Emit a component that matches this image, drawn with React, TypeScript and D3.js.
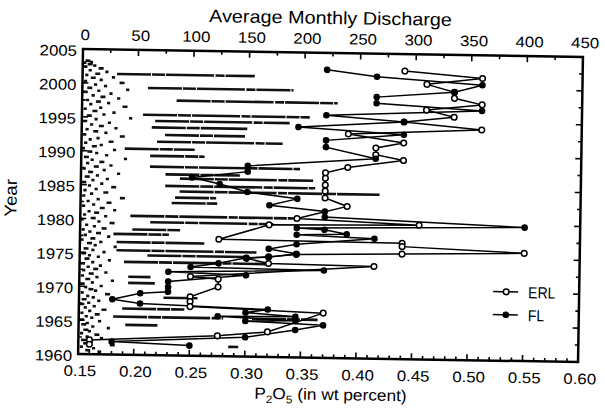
import React from "react";
import * as d3 from "d3";

// ---- axis ticks ----
const P2O5_TICKS = [0.15, 0.2, 0.25, 0.3, 0.35, 0.4, 0.45, 0.5, 0.55, 0.6];
const DISCHARGE_TICKS = [0, 50, 100, 150, 200, 250, 300, 350, 400, 450];
const YEAR_TICKS = [1960, 1965, 1970, 1975, 1980, 1985, 1990, 1995, 2000, 2005];

// ---- series: [year, P2O5 wt%] ----
const ERL: [number, number][] = [
  [2002.5, 0.44], [2001.6, 0.51], [2000.6, 0.46], [1999.5, 0.485], [1998.6, 0.485],
  [1997.7, 0.51], [1996.8, 0.46], [1995.8, 0.485], [1995.0, 0.44], [1994.0, 0.51],
  [1993.1, 0.39], [1991.9, 0.44], [1991.1, 0.415], [1990.1, 0.415], [1989.3, 0.44],
  [1988.15, 0.39], [1987.3, 0.37], [1986.5, 0.37], [1985.5, 0.37], [1984.6, 0.37],
  [1983.6, 0.37], [1982.4, 0.39], [1980.5, 0.345], [1979.8, 0.455], [1979.5, 0.32],
  [1977.25, 0.275], [1977.1, 0.44], [1976.6, 0.44], [1975.9, 0.55], [1975.5, 0.44],
  [1975.2, 0.345], [1974.8, 0.32], [1974.5, 0.3], [1973.8, 0.32], [1973.6, 0.415],
  [1971.7, 0.25], [1971.35, 0.275], [1970.2, 0.275], [1968.7, 0.25], [1968.0, 0.25],
  [1967.25, 0.25], [1966.6, 0.37], [1963.7, 0.32], [1963.0, 0.275], [1962.1, 0.16],
  [1961.45, 0.16],
];

const FL: [number, number][] = [
  [2002.5, 0.37], [2001.6, 0.415], [2000.6, 0.51], [1999.5, 0.485], [1998.6, 0.415],
  [1997.7, 0.415], [1996.8, 0.51], [1995.8, 0.37], [1995.0, 0.44], [1994.0, 0.345],
  [1993.1, 0.44], [1992.1, 0.37], [1991.1, 0.37], [1989.5, 0.415],
  [1988.15, 0.3], [1987.3, 0.3], [1986.3, 0.25], [1985.4, 0.275], [1984.3, 0.3],
  [1983.4, 0.345], [1982.4, 0.32], [1981.6, 0.37], [1980.8, 0.37], [1979.7, 0.55],
  [1979.1, 0.345], [1978.9, 0.37], [1978.3, 0.39], [1978.1, 0.345], [1977.7, 0.415],
  [1976.7, 0.345], [1975.95, 0.32], [1975.3, 0.345], [1974.7, 0.32], [1974.6, 0.3],
  [1973.7, 0.275], [1973.1, 0.25], [1972.9, 0.37], [1972.35, 0.23], [1972.0, 0.3],
  [1970.9, 0.23], [1970.1, 0.23], [1969.4, 0.23], [1969.1, 0.205], [1968.15, 0.18],
  [1967.6, 0.205], [1967.0, 0.32], [1966.5, 0.3], [1966.0, 0.345], [1965.9, 0.275],
  [1965.4, 0.345], [1965.25, 0.3], [1964.8, 0.37], [1964.05, 0.345], [1962.85, 0.3],
  [1961.9, 0.18], [1961.5, 0.25],
];

// ---- monthly discharge streaks: [year, from, to] (top axis units) ----
const DISCHARGE_ROWS: [number, number, number][] = [
  [2001.4, 31, 155], [1999.4, 59, 190], [1997.6, 85, 230], [1995.45, 55, 205],
  [1994.55, 66, 187], [1993.6, 63, 149], [1992.5, 75, 147], [1991.5, 68, 181],
  [1990.4, 39, 102], [1989.4, 62, 111], [1987.8, 62, 197], [1986.7, 76, 143],
  [1986.1, 89, 209], [1985.0, 76, 211], [1984.2, 89, 269], [1983.3, 85, 122],
  [1982.5, 82, 123], [1980.5, 45, 198], [1979.6, 63, 174], [1978.5, 47, 90],
  [1977.8, 30, 80], [1976.6, 33, 112], [1975.4, 33, 159], [1974.7, 61, 149],
  [1973.7, 40, 171], [1971.5, 44, 64], [1970.6, 44, 68], [1968.5, 76, 107],
  [1966.8, 39, 95], [1965.6, 31, 130], [1965.6, 156, 215], [1964.4, 42, 71],
  [1961.4, 135, 144],
];

// ---- low-flow months: [year, discharge] ----
const LOW_FLOW: [number, number][] = [
  [2003.3, 4], [2003.1, 8], [2003.0, 2], [2002.8, 6], [2002.6, 11], [2002.4, 3], [2002.2, 16],
  [2001.9, 7], [2001.7, 22], [2001.4, 13], [2001.2, 4], [2000.9, 28], [2000.8, 9], [2000.5, 17],
  [2000.3, 3], [2000.1, 35], [1999.8, 12], [1999.6, 21], [1999.3, 6], [1999.1, 41], [1998.9, 15],
  [1998.7, 2], [1998.5, 26], [1998.2, 10], [1998.0, 18], [1997.8, 33], [1997.5, 5], [1997.3, 14],
  [1997.1, 24], [1996.9, 8], [1996.6, 38], [1996.4, 17], [1996.2, 3], [1995.9, 11], [1995.7, 29],
  [1995.4, 20], [1995.2, 6], [1994.9, 44], [1994.7, 13], [1994.4, 2], [1994.2, 25], [1993.9, 9],
  [1993.7, 17], [1993.4, 31], [1993.2, 5], [1992.9, 12], [1992.7, 22], [1992.4, 3], [1992.2, 36],
  [1991.9, 15], [1991.7, 8], [1991.4, 26], [1991.2, 4], [1990.9, 18], [1990.7, 11], [1990.4, 2],
  [1990.2, 30], [1989.9, 7], [1989.7, 14], [1989.4, 23], [1989.1, 4], [1988.9, 40], [1988.7, 10],
  [1988.4, 18], [1988.2, 6], [1987.9, 27], [1987.7, 13], [1987.4, 3], [1987.2, 21], [1986.9, 8],
  [1986.7, 34], [1986.4, 15], [1986.2, 5], [1985.9, 24], [1985.7, 11], [1985.4, 2], [1985.2, 19],
  [1984.9, 8], [1984.7, 29], [1984.4, 14], [1984.2, 4], [1983.9, 22], [1983.7, 10], [1983.4, 3],
  [1983.1, 37], [1982.9, 16], [1982.6, 7], [1982.4, 25], [1982.1, 12], [1981.9, 3], [1981.6, 19],
  [1981.3, 31], [1981.1, 8], [1980.9, 14], [1980.6, 4], [1980.4, 23], [1980.1, 11], [1979.9, 2],
  [1979.6, 17], [1979.4, 28], [1979.1, 6], [1978.9, 13], [1978.6, 21], [1978.4, 3], [1978.1, 9],
  [1977.9, 16], [1977.6, 5], [1977.4, 26], [1977.1, 11], [1976.9, 2], [1976.6, 19], [1976.4, 8],
  [1976.1, 14], [1975.9, 32], [1975.6, 5], [1975.4, 12], [1975.1, 22], [1974.9, 3], [1974.6, 9],
  [1974.4, 17], [1974.1, 6], [1973.9, 27], [1973.6, 12], [1973.4, 2], [1973.1, 19], [1972.9, 8],
  [1972.6, 14], [1972.4, 4], [1972.1, 24], [1971.9, 10], [1971.6, 3], [1971.4, 16], [1971.1, 7],
  [1970.9, 30], [1970.6, 12], [1970.4, 2], [1970.1, 20], [1969.9, 6], [1969.6, 10], [1969.4, 15],
  [1969.1, 3], [1968.9, 25], [1968.6, 8], [1968.4, 13], [1968.1, 4], [1967.9, 18], [1967.6, 9],
  [1967.4, 2], [1967.1, 14], [1966.9, 6], [1966.6, 22], [1966.4, 10], [1966.1, 3], [1965.9, 16],
  [1965.6, 7], [1965.4, 12], [1965.1, 2], [1964.9, 19], [1964.6, 8], [1964.4, 4], [1964.1, 13],
  [1963.9, 27], [1963.6, 6], [1963.4, 10], [1963.1, 3], [1962.9, 16], [1962.6, 8], [1962.4, 21],
  [1962.1, 4], [1961.9, 12], [1961.6, 6], [1961.4, 30], [1961.1, 3], [1960.9, 14], [1960.6, 8],
  [1960.4, 19],
];

const FONT = "'Liberation Sans', Arial, sans-serif";

export default function App() {
  const W = 605, H = 413;
  const left = 83, top = 49, pw = 500, ph = 305;
  const right = left + pw, bottom = top + ph;

  const x = d3.scaleLinear().domain([0.15, 0.6]).range([left, right]);
  const xq = d3.scaleLinear().domain([0, 450]).range([left, right]);
  const y = d3.scaleLinear().domain([1960, 2005]).range([bottom, top]);

  const line = d3.line<[number, number]>().x((d) => x(d[1])).y((d) => y(d[0]));

  const minorX = d3.range(0.15, 0.6001, 0.01);
  const minorQ = d3.range(0, 450.01, 25);
  const minorY = d3.range(1960, 2005.01, 2.5);
  const isMajor = (v: number, step: number, base: number) =>
    Math.abs(((v - base) / step) - Math.round((v - base) / step)) < 1e-6;

  return (
    <svg width={W} height={H} style={{ position: "absolute", left: 0, top: 0, background: "#fff" }}
      fontFamily={FONT}>
      <rect x={0} y={0} width={W} height={H} fill="#fff" />
      <g transform={`rotate(0.92 ${left} ${top})`}>
        {/* title */}
        <text transform={`translate(330,20) scale(1.1,1)`} textAnchor="middle" fontSize={18}>
          Average Monthly Discharge
        </text>

        {/* discharge streaks */}
        {DISCHARGE_ROWS.map((r, i) => (
          <line key={"r" + i} x1={xq(r[1])} x2={xq(r[2])} y1={y(r[0])} y2={y(r[0])}
            stroke="#111" strokeWidth={2.6} strokeDasharray="34 1 13 1 48 1.5 9 1" />
        ))}
        {LOW_FLOW.map((p, i) => (
          <rect key={"l" + i} x={xq(p[1]) - 1.8} y={y(p[0]) - 1.2} width={i % 3 === 0 ? 5 : 3.2}
            height={2.6} fill="#111" />
        ))}

        {/* series lines */}
        <path d={line(ERL) || ""} fill="none" stroke="#000" strokeWidth={1.5} />
        <path d={line(FL) || ""} fill="none" stroke="#000" strokeWidth={1.5} />
        {ERL.map((d, i) => (
          <circle key={"e" + i} cx={x(d[1])} cy={y(d[0])} r={2.8} fill="#fff" stroke="#000" strokeWidth={1.5} />
        ))}
        {FL.map((d, i) => (
          <circle key={"f" + i} cx={x(d[1])} cy={y(d[0])} r={3.3} fill="#000" />
        ))}

        {/* frame */}
        <rect x={left} y={top} width={pw} height={ph} fill="none" stroke="#000" strokeWidth={2.5} />

        {/* ticks */}
        {minorX.map((v, i) => {
          const m = isMajor(v, 0.05, 0.15);
          return <line key={"bx" + i} x1={x(v)} x2={x(v)} y1={bottom} y2={bottom - (m ? 6 : 3.5)} stroke="#000" strokeWidth={1.6} />;
        })}
        {minorQ.map((v, i) => {
          const m = isMajor(v, 50, 0);
          return <line key={"tq" + i} x1={xq(v)} x2={xq(v)} y1={top} y2={top + (m ? 6 : 3.5)} stroke="#000" strokeWidth={1.6} />;
        })}
        {minorY.map((v, i) => {
          const m = isMajor(v, 5, 1960);
          return (
            <g key={"ly" + i}>
              <line x1={left} x2={left + (m ? 6 : 3.5)} y1={y(v)} y2={y(v)} stroke="#000" strokeWidth={1.6} />
              <line x1={right} x2={right - (m ? 6 : 3.5)} y1={y(v)} y2={y(v)} stroke="#000" strokeWidth={1.6} />
            </g>
          );
        })}

        {/* tick labels */}
        {P2O5_TICKS.map((v, i) => (
          <text key={"xl" + i} transform={`translate(${x(v) + 2},${bottom + 22}) scale(1.12,1)`}
            textAnchor="middle" fontSize={15}>{v.toFixed(2)}</text>
        ))}
        {DISCHARGE_TICKS.map((v, i) => (
          <text key={"ql" + i} transform={`translate(${xq(v) + 2},${top - 9}) scale(1.12,1)`}
            textAnchor="middle" fontSize={15}>{v}</text>
        ))}
        {YEAR_TICKS.map((v, i) => (
          <text key={"yl" + i} transform={`translate(${left - 6},${y(v) + 7}) scale(1.12,1)`}
            textAnchor="end" fontSize={15}>{v}</text>
        ))}

        {/* axis titles */}
        <text transform={`translate(19,199) rotate(-90) scale(1.1,1)`} textAnchor="middle" fontSize={17}>Year</text>
        <text transform={`translate(336,396) scale(1.08,1)`} textAnchor="middle" fontSize={16}>
          P<tspan fontSize={11} dy={4}>2</tspan><tspan dy={-4}>O</tspan><tspan fontSize={11} dy={4}>5</tspan>
          <tspan dy={-4}> (in wt percent)</tspan>
        </text>

        {/* legend */}
        <g>
          <line x1={497} x2={522} y1={285} y2={285} stroke="#000" strokeWidth={1.5} />
          <circle cx={510} cy={285} r={2.8} fill="#fff" stroke="#000" strokeWidth={1.5} />
          <text transform={`translate(532,291) scale(0.88,1)`} fontSize={16}>ERL</text>
          <line x1={497} x2={522} y1={308} y2={308} stroke="#000" strokeWidth={1.5} />
          <circle cx={510} cy={308} r={3.3} fill="#000" />
          <text transform={`translate(532,314) scale(0.88,1)`} fontSize={16}>FL</text>
        </g>
      </g>
    </svg>
  );
}
